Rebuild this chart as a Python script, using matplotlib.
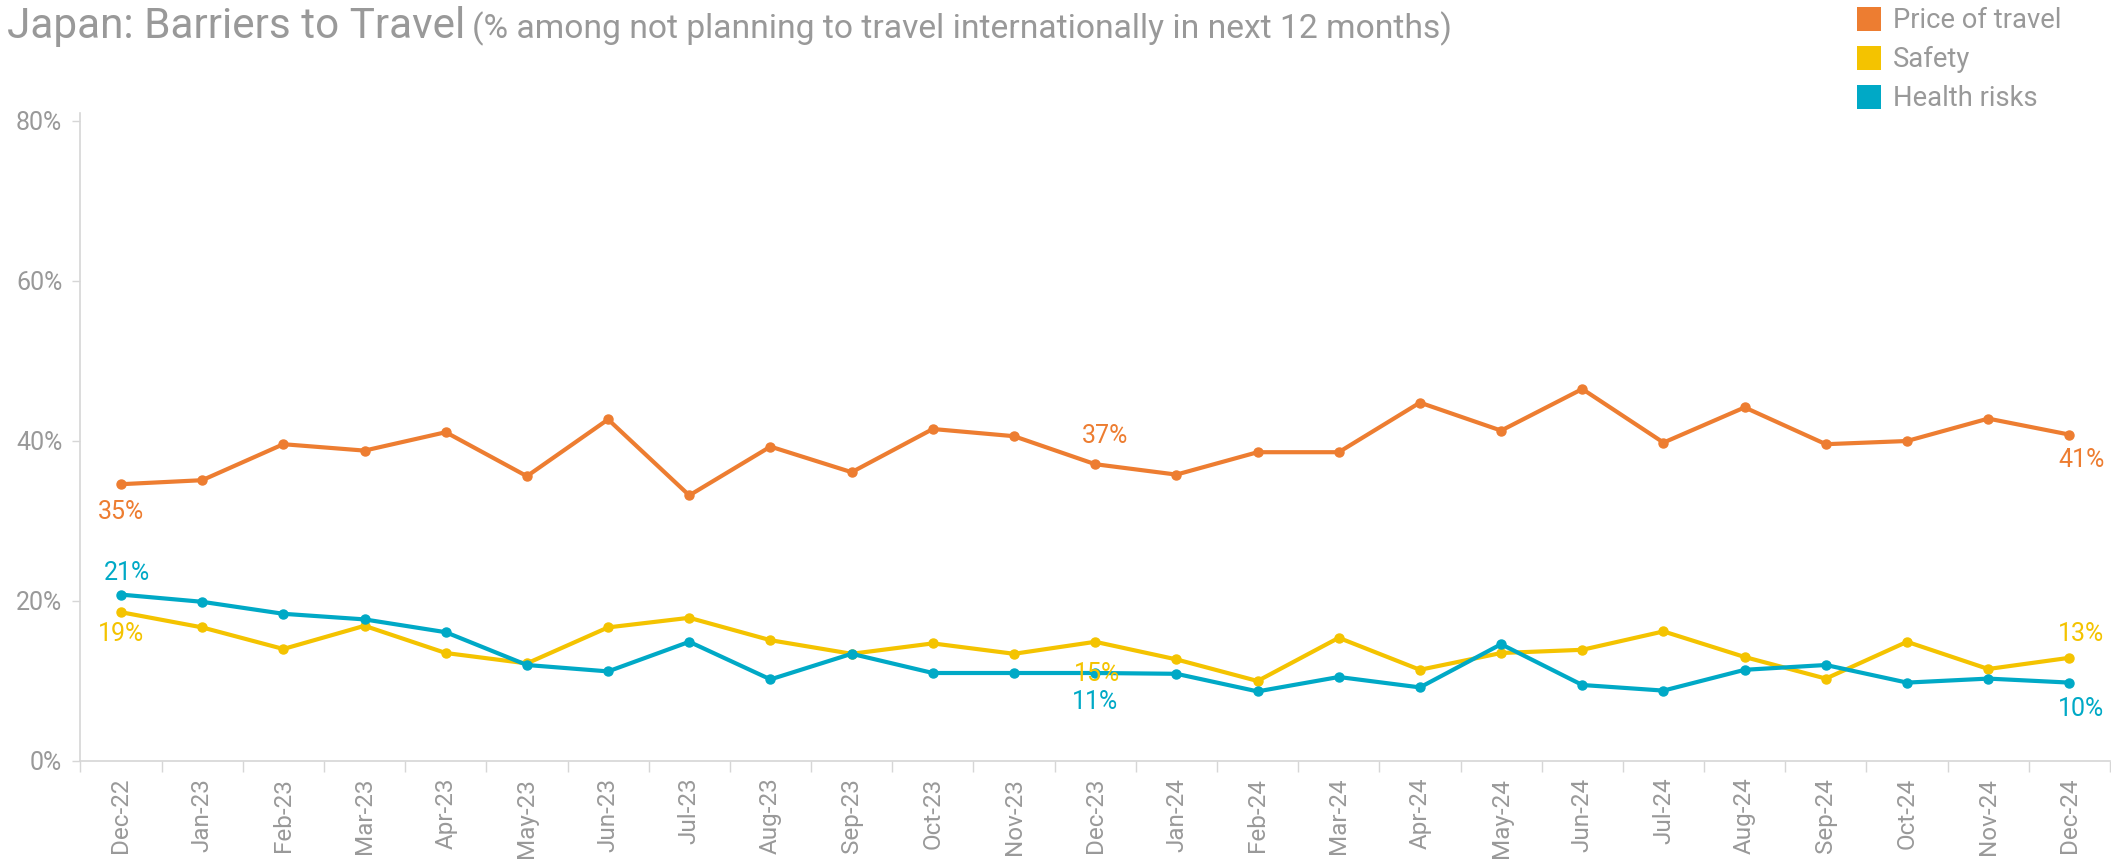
import matplotlib

matplotlib.use("Agg")

from matplotlib import font_manager
from matplotlib import pyplot as plt
from matplotlib.patches import Rectangle
from matplotlib.ticker import FixedLocator, NullFormatter

months = [
    "Dec-22", "Jan-23", "Feb-23", "Mar-23", "Apr-23", "May-23", "Jun-23", "Jul-23",
    "Aug-23", "Sep-23", "Oct-23", "Nov-23", "Dec-23", "Jan-24", "Feb-24", "Mar-24",
    "Apr-24", "May-24", "Jun-24", "Jul-24", "Aug-24", "Sep-24", "Oct-24", "Nov-24", "Dec-24",
]
price_of_travel = [34.6, 35.1, 39.6, 38.8, 41.1, 35.6, 42.7, 33.2, 39.3, 36.1, 41.5, 40.6, 37.1,
                   35.8, 38.6, 38.6, 44.8, 41.3, 46.5, 39.8, 44.2, 39.6, 40.0, 42.8, 40.8]
safety = [18.6, 16.7, 14.0, 16.9, 13.5, 12.2, 16.7, 17.9, 15.1, 13.4, 14.7, 13.4, 14.9,
          12.7, 10.0, 15.4, 11.4, 13.5, 13.9, 16.2, 13.0, 10.3, 14.9, 11.5, 12.9]
health_risks = [20.8, 19.9, 18.4, 17.7, 16.1, 12.0, 11.2, 14.9, 10.2, 13.4, 11.0, 11.0, 11.0,
                10.9, 8.7, 10.5, 9.2, 14.6, 9.5, 8.8, 11.4, 12.0, 9.8, 10.3, 9.8]

series_names = ["Price of travel", "Safety", "Health risks"]
series_values = [price_of_travel, safety, health_risks]
series_colors = ["#ED7D31", "#F4C300", "#00A9C6"]

# which points get a value label: (series index, month index, dx px, dy px)
labelled_points = [
    (0, 0, 0, -28), (2, 0, 6, 22), (1, 0, 0, -22),
    (0, 12, 10, 28), (1, 12, 2, -32), (2, 12, 0, -29),
    (0, 24, 12, -25), (1, 24, 12, 24), (2, 24, 12, -26),
]

available = {f.name for f in font_manager.fontManager.ttflist}
FONT = "Roboto" if "Roboto" in available else "DejaVu Sans"
plt.rcParams["font.family"] = [FONT, "DejaVu Sans"]

GRAY_TEXT = "#999999"
AXIS_GRAY = "#d6d6d6"
PT = 0.72  # points per pixel at dpi 100

W, H = 2111, 859
fig = plt.figure(figsize=(W / 100, H / 100), dpi=100)
ax = fig.add_axes([80.4 / W, (H - 761) / H, (2110 - 80.4) / W, (761 - 113) / H])

x = list(range(len(months)))
for vals, color in zip(series_values, series_colors):
    ax.plot(x, vals, color=color, linewidth=3.0, marker="o", markersize=6.5,
            solid_joinstyle="round", zorder=3)

for si, mi, dx, dy in labelled_points:
    ax.annotate(f"{round(series_values[si][mi])}%", (mi, series_values[si][mi]),
                xytext=(dx * PT, dy * PT), textcoords="offset points",
                ha="center", va="center", fontsize=18, color=series_colors[si], zorder=4)

ax.set_xlim(-0.5, len(months) - 0.5)
ax.set_ylim(0, 81)

ax.xaxis.set_major_locator(FixedLocator([i - 0.5 for i in range(len(months) + 1)]))
ax.xaxis.set_major_formatter(NullFormatter())
ax.xaxis.set_minor_locator(FixedLocator(x))
ax.set_xticklabels(months, minor=True, rotation=90, fontsize=17.5, color=GRAY_TEXT)
ax.tick_params(axis="x", which="major", length=8, color=AXIS_GRAY, width=1)
ax.tick_params(axis="x", which="minor", length=0, pad=12)

ax.set_yticks([0, 20, 40, 60, 80])
ax.set_yticklabels(["0%", "20%", "40%", "60%", "80%"], fontsize=18, color=GRAY_TEXT)
ax.tick_params(axis="y", length=6, color=AXIS_GRAY, width=1, pad=7)

for side in ["top", "right"]:
    ax.spines[side].set_visible(False)
for side in ["left", "bottom"]:
    ax.spines[side].set_color(AXIS_GRAY)
    ax.spines[side].set_linewidth(1.2)

renderer = fig.canvas.get_renderer()


def fit_width(text, target_px):
    width = text.get_window_extent(renderer).width
    text.set_fontsize(text.get_fontsize() * target_px / width)


title = fig.text(7 / W, 1 - 38 / H, "Japan: Barriers to Travel", fontsize=28, color=GRAY_TEXT,
                 ha="left", va="baseline")
fit_width(title, 458)
subtitle = fig.text(472 / W, 1 - 38 / H,
                    "(% among not planning to travel internationally in next 12 months)",
                    fontsize=22, color=GRAY_TEXT, ha="left", va="baseline")
fit_width(subtitle, 982)

sq = 24
legend_texts = []
for i, (name, color) in enumerate(zip(series_names, series_colors)):
    cy = 19 + 39 * i
    fig.patches.append(Rectangle((1857 / W, 1 - (cy + sq / 2) / H), sq / W, sq / H,
                                 transform=fig.transFigure, facecolor=color, edgecolor="none"))
    legend_texts.append(fig.text(1893 / W, 1 - (cy + 9) / H, name, fontsize=19,
                                 color=GRAY_TEXT, ha="left", va="baseline"))
fit_width(legend_texts[0], 168)
for t in legend_texts[1:]:
    t.set_fontsize(legend_texts[0].get_fontsize())

fig.savefig("out.png", dpi=100)
